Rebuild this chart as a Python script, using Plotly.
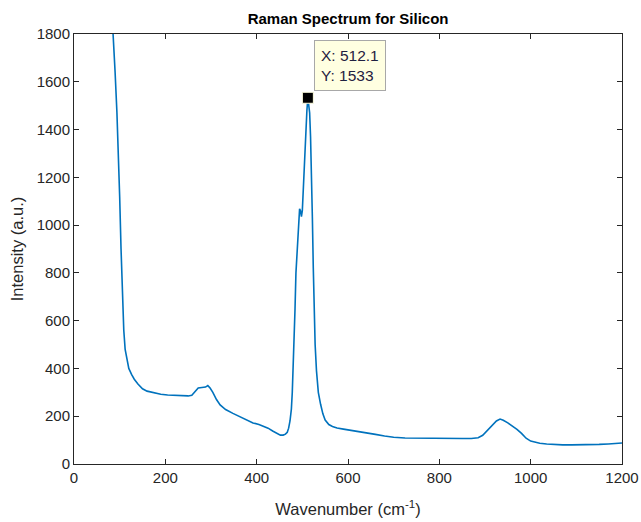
import plotly.graph_objects as go

wavenumber = [80, 86, 90, 94, 97, 100, 103, 106, 109, 112, 116, 120, 126, 132, 140, 150, 160, 175, 190, 205,
              220, 235, 250, 258, 265, 272, 280, 288, 293, 298, 304, 312, 320, 332, 348, 365, 380, 392, 405, 415,
              425, 435, 445, 452, 458, 463, 467, 470, 473, 476, 478, 480, 482, 484, 486, 488, 490, 492, 494, 496,
              498, 500, 502, 504, 506, 508, 510, 512.1, 514, 516, 518, 520, 522, 524, 526, 528, 531, 535, 540, 545,
              550, 558, 566, 576, 590, 604, 620, 641, 660, 680, 700, 725, 750, 775, 800, 825, 850, 870, 885, 895,
              905, 915, 925, 933, 940, 950, 960, 970, 980, 990, 1000, 1010, 1020, 1035, 1050, 1070, 1090, 1110, 1130,
              1150, 1170, 1190, 1200]
intensity = [2000, 1800, 1640, 1470, 1330, 1120, 900, 700, 560, 480, 430, 400, 375, 355, 335, 315, 305, 298, 292, 289,
             288, 286, 285, 288, 305, 318, 320, 322, 328, 318, 300, 270, 247, 228, 212, 196, 182, 172, 165, 159,
             150, 138, 127, 121, 121, 125, 133, 150, 180, 230, 300, 400, 520, 650, 800, 880, 960, 1030, 1068, 1060,
             1035, 1060, 1150, 1250, 1330, 1400, 1480, 1533, 1510, 1470, 1370, 1230, 1030, 820, 640, 500, 390, 300, 250, 210,
             184, 165, 157, 151, 146, 142, 138, 130, 124, 117, 112, 109, 108, 107, 108, 107, 107, 107, 110, 120,
             140, 160, 180, 188, 183, 172, 160, 145, 128, 108, 96, 90, 87, 84, 81, 80, 80, 80, 81,
             82, 84, 86, 88]

tip_x = [512.1]
tip_y = [1533]
x_ticks = [0, 200, 400, 600, 800, 1000, 1200]
y_ticks = [0, 200, 400, 600, 800, 1000, 1200, 1400, 1600, 1800]

FONT = "Liberation Sans, Arial, sans-serif"
AX = "#262626"

fig = go.Figure()
fig.add_trace(go.Scatter(x=wavenumber, y=intensity, mode="lines",
                         line=dict(color="#0072BD", width=1.6), showlegend=False, hoverinfo="skip"))
fig.add_trace(go.Scatter(x=tip_x, y=tip_y, mode="markers",
                         marker=dict(symbol="square", size=11, color="black",
                                     line=dict(color="#FFFFE1", width=1)),
                         showlegend=False, hoverinfo="skip"))

fig.add_annotation(x=tip_x[0], y=tip_y[0], xref="x", yref="y",
                   text=f"X: {tip_x[0]}<br>Y: {tip_y[0]}", showarrow=False,
                   xanchor="left", yanchor="bottom", xshift=6, yshift=7, align="left",
                   bgcolor="#FFFFE1", bordercolor="#A8A8A8", borderwidth=1, borderpad=6,
                   font=dict(family=FONT, size=15.5, color="#1F2040"))

fig.update_layout(
    width=641, height=522, autosize=False,
    margin=dict(l=74, r=19, t=34, b=58, autoexpand=False),
    paper_bgcolor="white", plot_bgcolor="white",
    title=dict(text="<b>Raman Spectrum for Silicon</b>", x=0.543, xanchor="center", y=0.965, yanchor="middle",
               font=dict(family=FONT, size=15, color="black")),
    font=dict(family=FONT, size=15, color=AX),
)
fig.update_xaxes(range=[0, 1200], tickvals=x_ticks, ticks="inside", ticklen=5, tickcolor=AX,
                 showline=True, linecolor=AX, linewidth=1, mirror="ticks", showgrid=False, zeroline=False,
                 automargin=False,
                 tickfont=dict(family=FONT, size=15, color=AX),
                 title=dict(text="Wavenumber (cm<sup>-1</sup>)", standoff=18,
                            font=dict(family=FONT, size=16.5, color=AX)))
fig.update_yaxes(range=[0, 1800], tickvals=y_ticks, ticks="inside", ticklen=5, tickcolor=AX,
                 showline=True, linecolor=AX, linewidth=1, mirror="ticks", showgrid=False, zeroline=False,
                 automargin=False,
                 tickfont=dict(family=FONT, size=15, color=AX),
                 title=dict(text="Intensity (a.u.)", standoff=8,
                            font=dict(family=FONT, size=16.5, color=AX)))

fig.write_html("out.html", config={"responsive": False, "displayModeBar": False},
               post_script="document.body.style.margin='0';document.body.style.padding='0';"
                           "document.documentElement.style.overflow='hidden';")
